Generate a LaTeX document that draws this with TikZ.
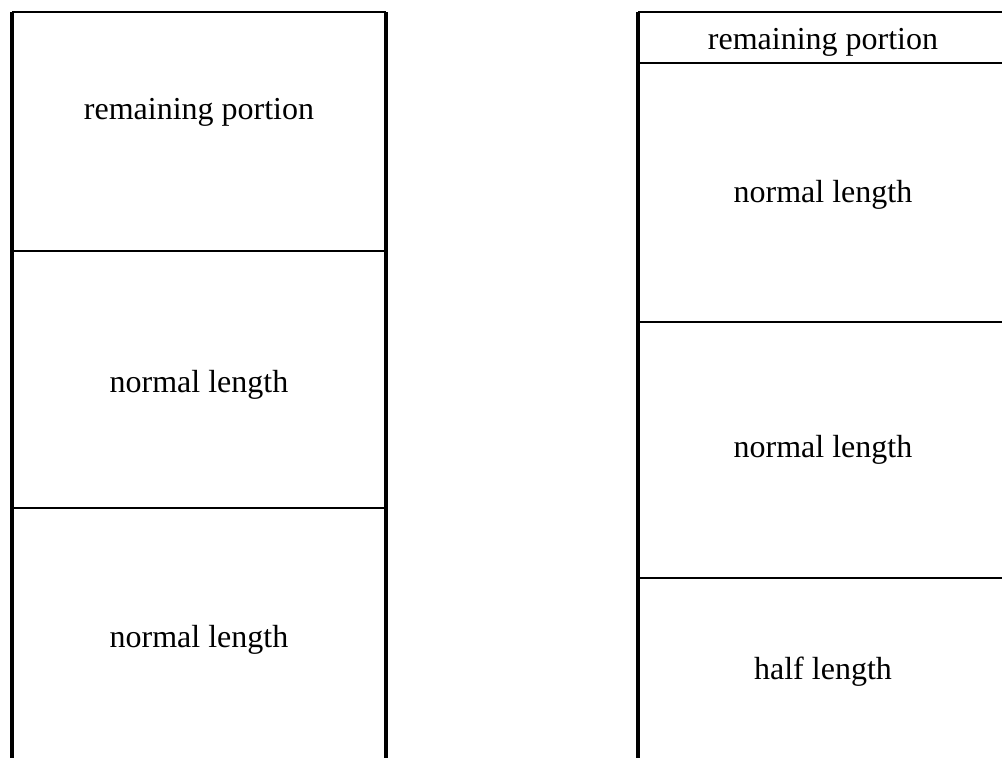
\documentclass[tikz,border=0pt]{standalone}
\usepackage{fontspec}
\setmainfont{Liberation Serif}
\begin{document}
\begin{tikzpicture}[x=1pt,y=-1pt,
  vline/.style={line width=3.5pt},
  hline/.style={line width=2pt},
  lbl/.style={anchor=base,inner sep=0pt,font=\fontsize{32}{38}\selectfont}]
\useasboundingbox (0,0) rectangle (1002,758);
% left column
\coordinate (LTL) at (12,12);
\coordinate (LTR) at (386,12);
\coordinate (LBL) at (12,758);
\coordinate (LBR) at (386,758);
\coordinate (L1a) at (12,251);
\coordinate (L1b) at (386,251);
\coordinate (L2a) at (12,508);
\coordinate (L2b) at (386,508);
\draw[vline] (LTL) -- (LBL);
\draw[vline] (LTR) -- (LBR);
\draw[hline] (LTL) -- (LTR);
\draw[hline] (L1a) -- (L1b);
\draw[hline] (L2a) -- (L2b);
\node[lbl] (l1) at (199,119) {remaining portion};
\node[lbl] (l2) at (199,392) {normal length};
\node[lbl] (l3) at (199,647) {normal length};
% right column
\coordinate (RTL) at (638,12);
\coordinate (RTR) at (1002,12);
\coordinate (RBL) at (638,758);
\coordinate (R1a) at (638,63);
\coordinate (R1b) at (1002,63);
\coordinate (R2a) at (638,322);
\coordinate (R2b) at (1002,322);
\coordinate (R3a) at (638,578);
\coordinate (R3b) at (1002,578);
\draw[vline] (RTL) -- (RBL);
\draw[hline] (RTL) -- (RTR);
\draw[hline] (R1a) -- (R1b);
\draw[hline] (R2a) -- (R2b);
\draw[hline] (R3a) -- (R3b);
\node[lbl] (r0) at (823,49) {remaining portion};
\node[lbl] (r1) at (823,202) {normal length};
\node[lbl] (r2) at (823,457) {normal length};
\node[lbl] (r3) at (823,679) {half length};
\end{tikzpicture}
\end{document}
